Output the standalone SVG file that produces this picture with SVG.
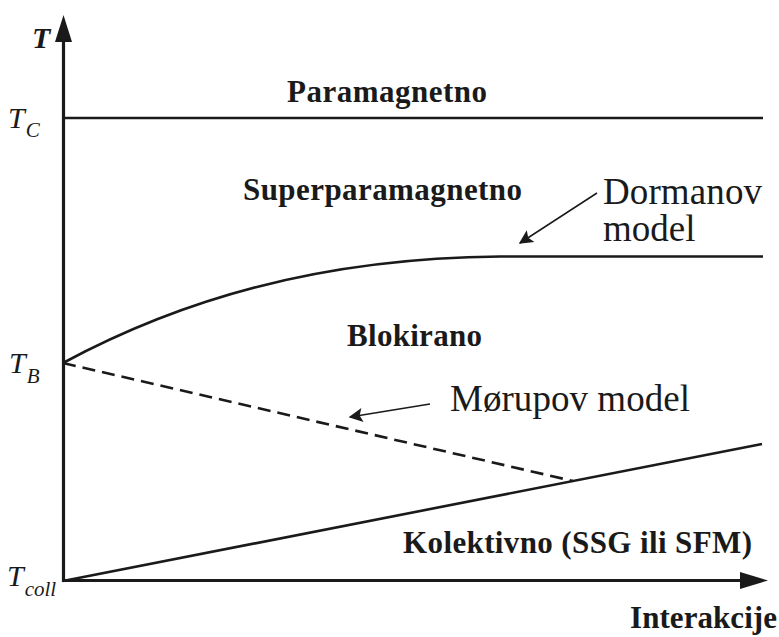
<svg xmlns="http://www.w3.org/2000/svg" width="779" height="637" viewBox="0 0 779 637">
<style>
.lbl{font-family:"Liberation Serif","Times New Roman",serif;fill:#1a1a1a}
.b{font-weight:bold;font-size:31px}
.r{font-size:37px}
.it{font-style:italic;font-size:30px}
.sub{font-size:21px}
.ln{stroke:#1a1a1a;fill:none;stroke-width:2.6}
.thin{stroke:#1a1a1a;fill:none;stroke-width:1.5}
</style>
<defs>
<marker id="ah" viewBox="0 0 10 10" refX="9" refY="5" markerWidth="18" markerHeight="14" markerUnits="userSpaceOnUse" orient="auto">
<path d="M0,0 L10,5 L0,10 L2,5 z" fill="#1a1a1a"/>
</marker>
</defs>
<g id="connectors">
<path id="y-axis" d="M63.5,582 V38" stroke="#1a1a1a" stroke-width="3.2" fill="none"/>
<path d="M63.5,15 L72,42 L55,42 z" fill="#1a1a1a"/>
<path id="x-axis" d="M62,580.5 H742" stroke="#1a1a1a" stroke-width="3.2" fill="none"/>
<path d="M768,580.5 L740,572 L740,589 z" fill="#1a1a1a"/>
<path id="tc-line" class="ln" d="M63,118 H763"/>
<path id="dorman-curve" class="ln" d="M63,363 C180,300 320,258 500,256.5 L763,256.5"/>
<path id="morup-dashed" class="ln" d="M63,363 L573,481" stroke-dasharray="13 7"/>
<path id="coll-line" class="ln" d="M63,581 L762,444"/>
<path id="dorman-arrow" class="thin" d="M597,193 L520,243" marker-end="url(#ah)"/>
<path id="morup-arrow" class="thin" d="M430,404 L350,417" marker-end="url(#ah)"/>
</g>
<g id="axis-T"><text class="lbl it" font-weight="bold" x="32" y="48">T</text></g>
<g id="label-TC"><text class="lbl it" x="8" y="128">T<tspan class="sub" dx="1" dy="9">C</tspan></text></g>
<g id="label-TB"><text class="lbl it" x="9" y="373">T<tspan class="sub" dx="1" dy="10">B</tspan></text></g>
<g id="label-Tcoll"><text class="lbl it" x="7" y="586">T<tspan class="sub" dx="1" dy="10">coll</tspan></text></g>
<g id="paramagnetno"><text class="lbl b" x="287" y="102" textLength="200">Paramagnetno</text></g>
<g id="superparamagnetno"><text class="lbl b" x="243" y="200" textLength="279">Superparamagnetno</text></g>
<g id="blokirano"><text class="lbl b" x="347" y="346" textLength="135">Blokirano</text></g>
<g id="kolektivno"><text class="lbl b" x="403" y="553" textLength="349">Kolektivno (SSG ili SFM)</text></g>
<g id="interakcije"><text class="lbl b" x="630" y="628" textLength="147">Interakcije</text></g>
<g id="dormanov"><text class="lbl r" x="603" y="204" textLength="159">Dormanov</text><text class="lbl r" x="603" y="241">model</text></g>
<g id="morupov"><text class="lbl r" x="450" y="411" textLength="240">Mørupov model</text></g>
</svg>
